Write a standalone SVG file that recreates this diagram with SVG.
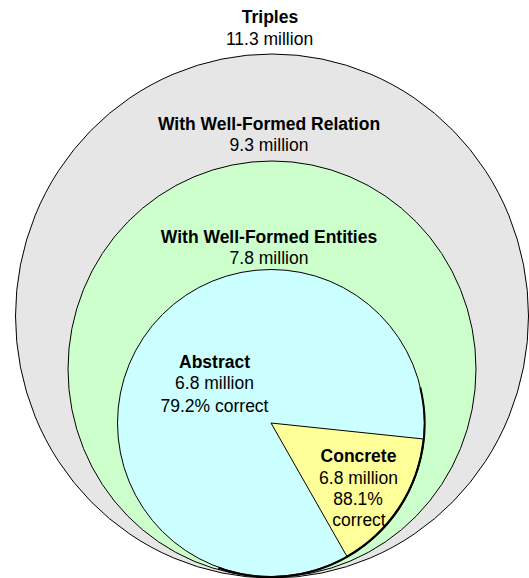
<svg xmlns="http://www.w3.org/2000/svg" width="529" height="578" viewBox="0 0 529 578">
<style>
.t{font-family:"Liberation Sans",Arial,sans-serif;font-size:17.5px;fill:#000;text-anchor:middle}
.b{font-weight:bold}
.s{stroke:#000;stroke-width:1}
</style>
<rect width="529" height="578" fill="#fff"/>
<g id="triples">
<ellipse class="s" cx="272" cy="316" rx="256.5" ry="262" fill="#e6e6e6"/>
<text class="t b" x="270" y="22.5">Triples</text>
<text class="t" x="269.5" y="45">11.3 million</text>
</g>
<g id="relation">
<ellipse class="s" cx="272" cy="369" rx="204" ry="208" fill="#ccffcc"/>
<text class="t b" x="269" y="129.5">With Well-Formed Relation</text>
<text class="t" x="269" y="151">9.3 million</text>
</g>
<g id="entities">
<text class="t b" x="269" y="243">With Well-Formed Entities</text>
<text class="t" x="269" y="264">7.8 million</text>
</g>
<g id="abstract">
<circle class="s" cx="271" cy="423" r="153.5" fill="#ccffff"/>
<path d="M420.3,387.5 A153.5,153.5 0 0 1 218.3,567.7" fill="none" stroke="#000" stroke-width="2"/>
<text class="t b" x="214.5" y="367.5">Abstract</text>
<text class="t" x="214.5" y="389">6.8 million</text>
<text class="t" x="214.5" y="411.5">79.2% correct</text>
</g>
<g id="concrete">
<path class="s" d="M271,423 L423.6,439 A153.5,153.5 0 0 1 347,556.5 Z" fill="#ffff99"/>
<path d="M423.6,439 A153.5,153.5 0 0 1 347,556.5" fill="none" stroke="#000" stroke-width="2"/>
<text class="t b" x="358.5" y="462">Concrete</text>
<text class="t" x="358.5" y="483.5">6.8 million</text>
<text class="t" x="358" y="505">88.1%</text>
<text class="t" x="359" y="526">correct</text>
</g>
</svg>
